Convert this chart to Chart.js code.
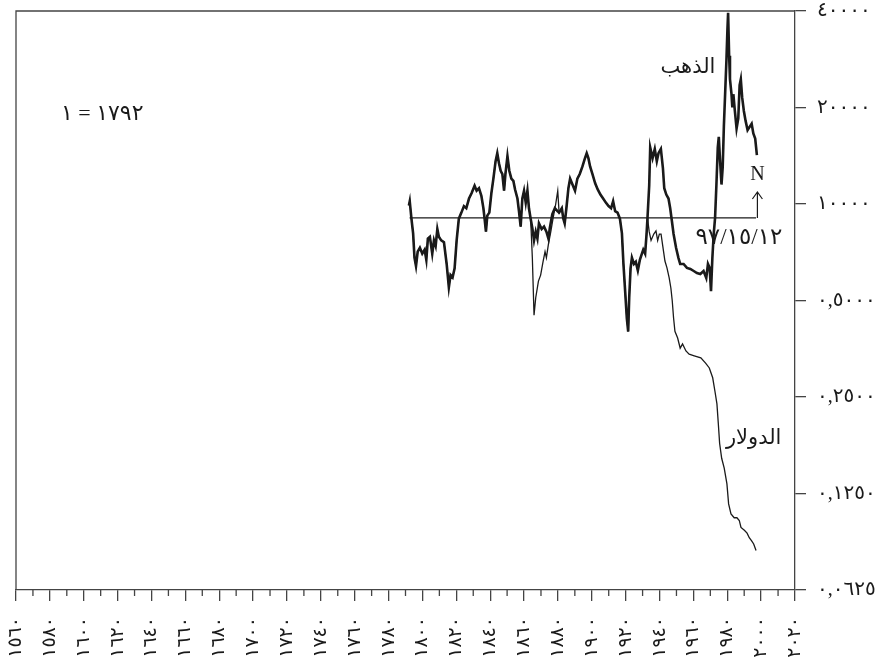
<!DOCTYPE html>
<html lang="ar">
<head>
<meta charset="utf-8">
<script src="https://cdn.jsdelivr.net/npm/chart.js@4.4.1/dist/chart.umd.min.js"></script>
<style>
  html, body { margin: 0; padding: 0; background: #fff; }
  #wrap { width: 896px; height: 670px; }
</style>
</head>
<body>
<div id="wrap"><canvas id="chart" width="896" height="670"></canvas></div>
<script>
// shared part of both series (gold standard years), index 1792 = 1
const earlyYears = [1792.0, 1792.5, 1793.5, 1794.5, 1795.3, 1796.2, 1797.2, 1798.5, 1799.9, 1801.3,
  1802.3, 1803.2, 1804.4, 1805.8, 1806.8, 1807.8, 1808.8, 1809.7, 1811.1, 1812.7,
  1814.3, 1815.6, 1816.6, 1817.8, 1819.0, 1820.2, 1821.5, 1823.0, 1824.5, 1825.9,
  1827.5, 1829.0, 1830.8, 1832.0, 1833.4, 1834.8, 1836.0, 1836.7, 1837.5, 1838.3,
  1839.5, 1840.7, 1841.9, 1843.2, 1844.2, 1845.2, 1846.2, 1847.2, 1848.2, 1849.0,
  1850.2, 1851.3, 1852.5, 1853.7, 1854.7, 1856.1, 1857.0, 1858.0, 1859.0, 1860.0,
  1861.0, 1862.0, 1862.9, 1863.9];
const earlyValues = [0.99, 1.02, 0.90, 0.81, 0.68, 0.64, 0.71, 0.73, 0.70, 0.72,
  0.67, 0.78, 0.79, 0.70, 0.77, 0.74, 0.835, 0.79, 0.77, 0.76,
  0.65, 0.55, 0.60, 0.59, 0.63, 0.77, 0.90, 0.94, 0.985, 0.97,
  1.04, 1.08, 1.14, 1.10, 1.12, 1.06, 0.97, 0.90, 0.82, 0.92,
  0.94, 1.08, 1.20, 1.36, 1.44, 1.34, 1.27, 1.24, 1.10, 1.24,
  1.41, 1.27, 1.20, 1.18, 1.11, 1.04, 0.95, 0.85, 1.04, 1.10,
  1.01, 1.10, 0.97, 0.90];

// civil war / greenback years, the two series split
const goldWarYears = [1864.9, 1865.9, 1866.9, 1867.9, 1868.8, 1870.4, 1871.8, 1873.2, 1874.4, 1875.2, 1876.7, 1878.2, 1879.7];
const goldWarValues = [0.84, 0.77, 0.82, 0.78, 0.87, 0.835, 0.85, 0.82, 0.78, 0.84, 0.93, 0.97, 0.95];
const dollarWarYears = [1864.9, 1865.9, 1866.9, 1868.5, 1869.8, 1871.2, 1872.4, 1873.2, 1874.4, 1875.8, 1877.1, 1878.7, 1879.9];
const dollarWarValues = [0.68, 0.45, 0.51, 0.575, 0.60, 0.66, 0.71, 0.68, 0.75, 0.82, 0.90, 1.00, 1.10];

// shared again until 1933
const midYears = [1880.7, 1882.3, 1883.2, 1884.0, 1885.0, 1886.2, 1887.2, 1888.6, 1890.1, 1891.5,
  1892.9, 1894.5, 1895.8, 1897.0, 1898.0, 1899.0, 1900.4, 1902.0, 1903.5, 1905.1,
  1906.7, 1908.3, 1909.9, 1911.4, 1912.6, 1913.8, 1915.2, 1916.6, 1917.8, 1918.7,
  1919.7, 1920.7, 1921.5, 1922.1, 1922.9, 1923.7, 1924.9, 1926.0, 1927.2, 1928.4,
  1929.6, 1930.4, 1931.5, 1932.3, 1932.9];
const midValues = [0.94, 0.97, 0.90, 0.87, 0.97, 1.12, 1.20, 1.15, 1.10, 1.20,
  1.24, 1.31, 1.38, 1.44, 1.39, 1.31, 1.24, 1.16, 1.11, 1.07,
  1.04, 1.01, 0.985, 0.97, 1.02, 0.95, 0.94, 0.90, 0.81, 0.65,
  0.535, 0.44, 0.40, 0.51, 0.63, 0.68, 0.65, 0.66, 0.62, 0.67,
  0.70, 0.72, 0.70, 0.80, 0.905];

// after 1933
const goldLateYears = [1933.9, 1934.5, 1935.9, 1937.2, 1938.4, 1939.4, 1940.8, 1942.0, 1942.8, 1944.0,
  1945.3, 1946.3, 1947.3, 1948.3, 1949.8, 1951.2, 1952.2, 1954.2, 1956.2, 1958.2,
  1960.2, 1962.1, 1964.1, 1966.0, 1967.6, 1968.6, 1969.6, 1970.4, 1971.2, 1972.0,
  1972.8, 1973.6, 1974.4, 1975.0, 1975.8, 1976.6, 1977.3, 1978.0, 1978.8, 1979.5,
  1980.1, 1980.5, 1981.1, 1981.6, 1982.5, 1983.0, 1983.6, 1984.5, 1985.5, 1986.5,
  1987.3, 1988.0, 1988.8, 1989.8, 1990.8, 1992.0, 1993.2, 1994.4, 1995.4, 1996.5, 1997.5];
const goldLateValues = [1.14, 1.50, 1.39, 1.485, 1.36, 1.44, 1.485, 1.295, 1.12, 1.07,
  1.04, 0.97, 0.885, 0.806, 0.729, 0.678, 0.650, 0.650, 0.632, 0.627,
  0.618, 0.609, 0.605, 0.618, 0.588, 0.650, 0.632, 0.535, 0.678, 0.806,
  0.905, 1.15, 1.50, 1.62, 1.35, 1.15, 1.30, 1.75, 2.25, 2.80,
  3.50, 3.95, 2.90, 2.45, 2.20, 2.00, 2.20, 1.95, 1.72, 1.85,
  2.35, 2.45, 2.15, 1.95, 1.82, 1.70, 1.74, 1.78, 1.66, 1.60, 1.42];
const dollarLateYears = [1933.9, 1935.0, 1936.6, 1937.9, 1938.9, 1939.9, 1940.9, 1941.9, 1943.2, 1944.4,
  1945.7, 1946.7, 1947.5, 1948.3, 1949.1, 1950.7, 1952.2, 1953.6, 1955.6, 1957.5,
  1960.5, 1964.4, 1967.2, 1969.4, 1971.4, 1972.7, 1973.9, 1974.7, 1975.5, 1976.7,
  1978.2, 1979.8, 1980.8, 1982.2, 1984.1, 1985.7, 1987.1, 1988.1, 1990.1, 1991.7,
  1993.0, 1994.4, 1995.6, 1997.0];
const dollarLateValues = [0.82, 0.77, 0.806, 0.824, 0.77, 0.806, 0.806, 0.74, 0.664, 0.632,
  0.588, 0.547, 0.50, 0.441, 0.401, 0.382, 0.355, 0.366, 0.348, 0.340,
  0.336, 0.331, 0.319, 0.308, 0.287, 0.261, 0.238, 0.207, 0.179, 0.161,
  0.150, 0.134, 0.116, 0.108, 0.105, 0.105, 0.103, 0.098, 0.096, 0.094,
  0.091, 0.089, 0.087, 0.083];

// base line and its end date
const refYears = [1792.4, 1997.0];
const refValue = 0.905;

// axes
const xTickYears = [1560, 1580, 1600, 1620, 1640, 1660, 1680, 1700, 1720, 1740, 1760, 1780,
  1800, 1820, 1840, 1860, 1880, 1900, 1920, 1940, 1960, 1980, 2000, 2020];
const xTickLabels = ['١٥٦٠', '١٥٨٠', '١٦٠٠', '١٦٢٠', '١٦٤٠', '١٦٦٠', '١٦٨٠', '١٧٠٠', '١٧٢٠', '١٧٤٠', '١٧٦٠', '١٧٨٠',
  '١٨٠٠', '١٨٢٠', '١٨٤٠', '١٨٦٠', '١٨٨٠', '١٩٠٠', '١٩٢٠', '١٩٤٠', '١٩٦٠', '١٩٨٠', '٢٠٠٠', '٢٠٢٠'];
const yTickValues = [0.0625, 0.125, 0.25, 0.5, 1, 2, 4];
const yTickLabels = ['٠,٠٦٢٥', '٠,١٢٥٠', '٠,٢٥٠٠', '٠,٥٠٠٠', '١٠٠٠٠', '٢٠٠٠٠', '٤٠٠٠٠'];

// text on the plot: [text, year, value, font size]
// (LRM marks keep "1 = 1792" in left-to-right order)
const notes = [
  ['الذهب', 1956.8, 2.66, 21],
  ['الدولار', 1995.6, 0.186, 21],
  ['١\u200E = \u200E١٧٩٢', 1610.9, 1.91, 22],
  ['٩٧/١٥/١٢', 1986.9, 0.783, 23],
  ['N', 1997.8, 1.23, 20]
];
const arrowYear = 1997.8, arrowFrom = 0.905, arrowTo = 1.09;

const ink = '#1a1a1a';
const axisColor = '#444';
const fontFamily = '"Liberation Serif", "DejaVu Sans", serif';

const toPoints = (xs, ys) => xs.map((x, i) => ({ x: x, y: ys[i] }));
const goldPoints = toPoints(earlyYears.concat(goldWarYears, midYears, goldLateYears),
  earlyValues.concat(goldWarValues, midValues, goldLateValues));
const dollarPoints = toPoints(earlyYears.concat(dollarWarYears, midYears, dollarLateYears),
  earlyValues.concat(dollarWarValues, midValues, dollarLateValues));

const extras = {
  id: 'extras',
  afterDraw(chart) {
    const { ctx, chartArea: a } = chart;
    const x = chart.scales.x, y = chart.scales.y;
    ctx.save();
    ctx.strokeStyle = axisColor;
    ctx.lineWidth = 1.3;
    ctx.beginPath();
    ctx.moveTo(a.left, a.bottom);
    ctx.lineTo(a.left, a.top);
    ctx.lineTo(a.right, a.top);
    // short ticks between the labelled years
    for (let yr = 1570; yr < 2020; yr += 20) {
      const px = x.getPixelForValue(yr);
      ctx.moveTo(px, a.bottom);
      ctx.lineTo(px, a.bottom + 6);
    }
    ctx.stroke();

    // arrow under the N
    const ax = x.getPixelForValue(arrowYear);
    const a0 = y.getPixelForValue(arrowFrom), a1 = y.getPixelForValue(arrowTo);
    ctx.strokeStyle = ink;
    ctx.lineWidth = 1.2;
    ctx.beginPath();
    ctx.moveTo(ax, a0);
    ctx.lineTo(ax, a1);
    ctx.moveTo(ax - 5, a1 + 7);
    ctx.lineTo(ax, a1);
    ctx.lineTo(ax + 5, a1 + 7);
    ctx.stroke();

    ctx.fillStyle = ink;
    ctx.textAlign = 'center';
    ctx.textBaseline = 'middle';
    notes.forEach(n => {
      ctx.font = n[3] + 'px ' + fontFamily;
      ctx.fillText(n[0], x.getPixelForValue(n[1]), y.getPixelForValue(n[2]));
    });
    ctx.restore();
  }
};

new Chart(document.getElementById('chart'), {
  type: 'line',
  data: {
    datasets: [
      {
        label: 'الدولار',
        data: dollarPoints,
        borderColor: ink,
        borderWidth: 1.3,
        pointRadius: 0,
        tension: 0
      },
      {
        label: 'الذهب',
        data: goldPoints,
        borderColor: ink,
        borderWidth: 2.6,
        pointRadius: 0,
        tension: 0
      },
      {
        label: 'base',
        data: refYears.map(yr => ({ x: yr, y: refValue })),
        borderColor: ink,
        borderWidth: 1.3,
        pointRadius: 0
      }
    ]
  },
  options: {
    responsive: false,
    animation: false,
    layout: { padding: { left: 16, top: 11, right: 0, bottom: 0 } },
    plugins: {
      legend: { display: false },
      tooltip: { enabled: false }
    },
    scales: {
      x: {
        type: 'linear',
        min: 1560,
        max: 2020,
        afterBuildTicks: (scale) => { scale.ticks = xTickYears.map(v => ({ value: v })); },
        afterFit: (scale) => {
          scale.height = 80;
          scale.paddingLeft = 0;
          scale.paddingRight = 0;
        },
        grid: { drawOnChartArea: false, tickLength: 11, color: axisColor, lineWidth: 1.3 },
        border: { color: axisColor, width: 1.3 },
        ticks: {
          autoSkip: false,
          minRotation: 90,
          maxRotation: 90,
          padding: 16,
          color: ink,
          font: { family: fontFamily, size: 19 },
          callback: (val, i) => xTickLabels[i]
        }
      },
      y: {
        type: 'logarithmic',
        position: 'right',
        min: 0.0625,
        max: 4,
        afterBuildTicks: (scale) => { scale.ticks = yTickValues.map(v => ({ value: v })); },
        afterFit: (scale) => {
          scale.width = 101;
          scale.paddingTop = 0;
          scale.paddingBottom = 0;
        },
        grid: { drawOnChartArea: false, tickLength: 11, color: axisColor, lineWidth: 1.3 },
        border: { color: axisColor, width: 1.3 },
        ticks: {
          padding: 11,
          color: ink,
          font: { family: fontFamily, size: 20 },
          callback: (val, i) => yTickLabels[i]
        }
      }
    }
  },
  plugins: [extras]
});
</script>
</body>
</html>
